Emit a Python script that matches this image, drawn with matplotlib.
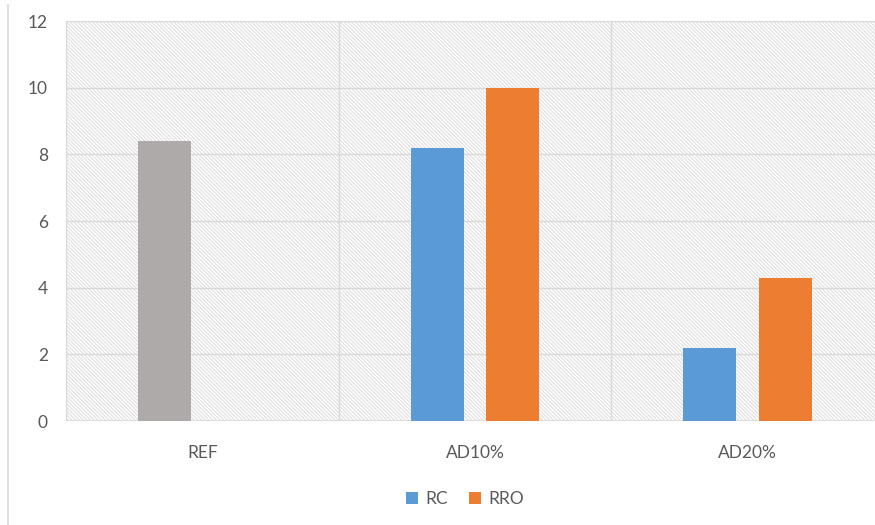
import matplotlib
matplotlib.use("Agg")
import matplotlib.pyplot as plt
from matplotlib.patches import Rectangle, Patch
from matplotlib.lines import Line2D
import numpy as np

plt.rcParams['font.family'] = ['Lato', 'DejaVu Sans']
plt.rcParams['hatch.linewidth'] = 0.7

categories = ["REF", "AD10%", "AD20%"]
rc_values = [8.4, 8.2, 2.2]
rro_values = [None, 10.0, 4.3]
series_names = ["RC", "RRO"]
yticks = [0, 2, 4, 6, 8, 10, 12]

blue = "#5B9BD5"
orange = "#ED7D31"
gray_bar = "#AEAAAA"
grid_c = "#D9D9D9"
text_c = "#595959"

fig = plt.figure(figsize=(8.75, 5.25), dpi=100)
ax = fig.add_axes([66/875, 1 - 421/525, (884 - 66)/875, (421 - 21)/525])

x = np.arange(len(categories))
offset = 0.139
width = 0.195
rc_colors = [gray_bar if c == "REF" else blue for c in categories]
ax.bar(x - offset, rc_values, width, color=rc_colors, zorder=3)
rro_x = [xi + offset for xi, v in zip(x, rro_values) if v is not None]
rro_v = [v for v in rro_values if v is not None]
ax.bar(rro_x, rro_v, width, color=orange, zorder=3)

bg = Rectangle((0, 0), 1, 1, transform=ax.transAxes, facecolor='white',
               edgecolor='#DADADA', linewidth=0, hatch='\\' * 9, zorder=0.1)
ax.add_patch(bg)

ax.set_xlim(-0.5, 2.5)
ax.set_ylim(0, 12)
ax.set_yticks(yticks)
ax.set_yticklabels([str(t) for t in yticks])
ax.set_xticks(x)
ax.set_xticklabels(categories)
for t in yticks[1:]:
    ax.axhline(t, color=grid_c, lw=1.0, zorder=1)
for b in [-0.5, 0.5, 1.5]:
    ax.axvline(b, color=grid_c, lw=1.0, zorder=1)
ax.axhline(0, color=grid_c, lw=1.2, zorder=2)

for s in ax.spines.values():
    s.set_visible(False)
ax.tick_params(axis='both', length=0, colors=text_c, labelsize=12.5)
ax.tick_params(axis='y', pad=13)
ax.tick_params(axis='x', pad=17)

handles = [Patch(facecolor=blue, label=series_names[0]),
           Patch(facecolor=orange, label=series_names[1])]
fig.legend(handles=handles, loc='center', bbox_to_anchor=(465/875, 1 - 499/525),
           ncol=2, frameon=False, fontsize=12.5, labelcolor=text_c,
           handlelength=0.7, handleheight=0.7, handletextpad=0.4, columnspacing=1.2)

fig.add_artist(Line2D([7.5/875, 7.5/875], [0, 1 - 5/525], color=grid_c, lw=1.2,
                      transform=fig.transFigure))

fig.savefig("out.png", dpi=100)
